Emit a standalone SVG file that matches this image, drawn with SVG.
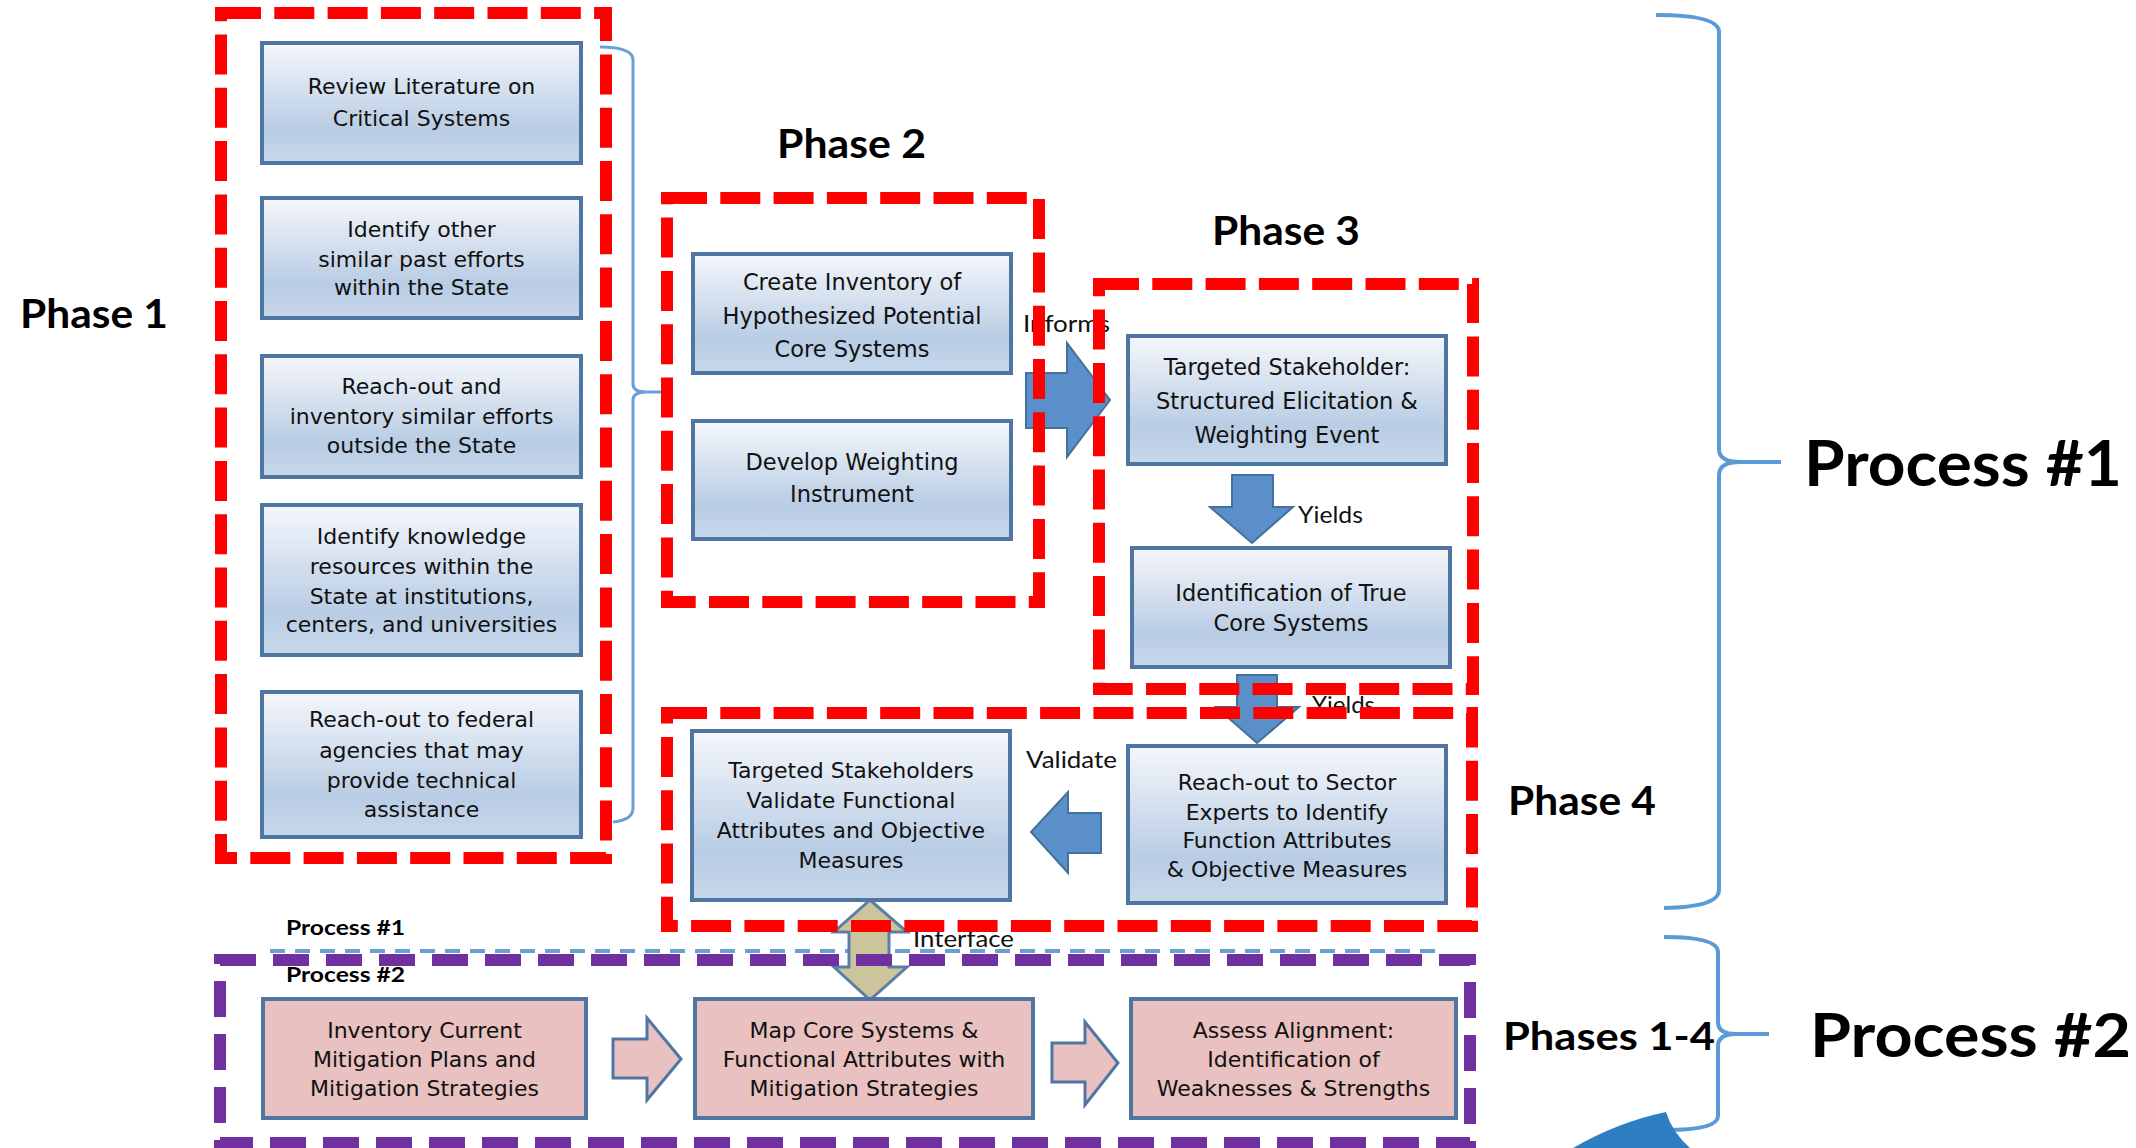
<svg xmlns="http://www.w3.org/2000/svg" width="2136" height="1148" viewBox="0 0 2136 1148">
  <defs>
    <linearGradient id="blueFill" x1="0" y1="0" x2="0" y2="1">
      <stop offset="0" stop-color="#f5f7fb"/>
      <stop offset="0.72" stop-color="#b8cce4"/>
      <stop offset="1" stop-color="#c8d8eb"/>
    </linearGradient>
    <style>
      .box { fill: url(#blueFill); stroke: #4f76a3; stroke-width: 4; }
      .pink { fill: #e8c1c0; stroke: #4f76a3; stroke-width: 4; }
      .txt { font-family: "DejaVu Sans", Verdana, sans-serif; font-size: 22px; fill: #111; text-anchor: middle; }
      .txt2 { font-family: "DejaVu Sans", Verdana, sans-serif; font-size: 22.5px; fill: #111; text-anchor: middle; }
      .big { font-family: Lato, "Open Sans", sans-serif; font-weight: bold; fill: #000; }
      .lbl { font-family: Lato, "Open Sans", sans-serif; font-size: 24px; fill: #111; }
      .frame { fill: none; stroke: #ff0000; stroke-width: 12; stroke-dasharray: 40 13.3; }
      .purple { fill: none; stroke: #7030a0; stroke-width: 12; stroke-dasharray: 36 17; }
      .brace { fill: none; stroke: #5b9bd5; stroke-width: 4; }
      .thin { fill: none; stroke: #6a9fd4; stroke-width: 3; }
      .blockArrow { fill: #5a8fc9; stroke: #41719c; stroke-width: 2; }
      .pinkArrow { fill: #e8c1c0; stroke: #4f76a3; stroke-width: 3; }
      .dualArrow { fill: #ccc49b; stroke: #5b7ea6; stroke-width: 3; }
    </style>
  </defs>

  <rect width="2136" height="1148" fill="#ffffff"/>

  <!-- big titles -->
  <g id="titles">
    <text class="big" x="20" y="328" font-size="40" textLength="148" lengthAdjust="spacingAndGlyphs">Phase 1</text>
    <text class="big" x="777" y="158" font-size="40" textLength="149" lengthAdjust="spacingAndGlyphs">Phase 2</text>
    <text class="big" x="1212" y="245" font-size="40" textLength="148" lengthAdjust="spacingAndGlyphs">Phase 3</text>
    <text class="big" x="1508" y="815" font-size="40" textLength="148" lengthAdjust="spacingAndGlyphs">Phase 4</text>
    <text class="big" x="1503" y="1050" font-size="39" textLength="212" lengthAdjust="spacingAndGlyphs">Phases 1-4</text>
    <text class="big" x="1804" y="486" font-size="63" textLength="318" lengthAdjust="spacingAndGlyphs">Process #1</text>
    <text class="big" x="1810" y="1057" font-size="62" textLength="321" lengthAdjust="spacingAndGlyphs">Process #2</text>
    <text class="big" x="286" y="935" font-size="21" textLength="119" lengthAdjust="spacingAndGlyphs">Process #1</text>
    <text class="big" x="286" y="982" font-size="21" textLength="119" lengthAdjust="spacingAndGlyphs">Process #2</text>
  </g>

  <!-- connectors: braces, block arrows and their labels -->
  <g id="connectors">
    <path class="thin" d="M600,47 Q633,47 633,60 L633,384 Q633,392 646,392 L662,392 M646,392 Q633,392 633,400 L633,808 Q633,820 613,822"/>
    <path class="brace" d="M1656,15 Q1719,15 1719,32 L1719,449 Q1719,462 1740,462 L1781,462 M1740,462 Q1719,462 1719,475 L1719,890 Q1719,907 1664,908"/>
    <path class="brace" d="M1664,937 Q1718,937 1718,952 L1718,1022 Q1718,1034 1736,1034 L1769,1034 M1736,1034 Q1718,1034 1718,1046 L1718,1116 Q1718,1130 1666,1130"/>

    <line x1="270" y1="951" x2="1440" y2="951" stroke="#6a9fd4" stroke-width="4" stroke-dasharray="15 10"/>

    <polygon class="blockArrow" points="1026,373 1067,373 1067,343 1110,400 1067,457 1067,428 1026,428"/>
    <text class="lbl" x="1023" y="332" textLength="87" lengthAdjust="spacingAndGlyphs">Informs</text>

    <polygon class="blockArrow" points="1232,475 1273,475 1273,507 1293,507 1252,543 1210,507 1232,507"/>
    <text class="lbl" x="1298" y="523" textLength="65" lengthAdjust="spacingAndGlyphs">Yields</text>

    <text class="lbl" x="1312" y="713" textLength="63" lengthAdjust="spacingAndGlyphs">Yields</text>
    <polygon class="blockArrow" points="1237,675 1277,675 1277,707 1299,707 1257,743 1216,707 1237,707"/>

    <polygon class="blockArrow" points="1101,813 1068,813 1068,792 1031,832 1068,873 1068,853 1101,853"/>
    <text class="lbl" x="1026" y="768" textLength="91" lengthAdjust="spacingAndGlyphs">Validate</text>

    <polygon class="pinkArrow" points="613,1039 647,1039 647,1018 681,1059 647,1100 647,1078 613,1078"/>
    <polygon class="pinkArrow" points="1052,1043 1085,1043 1085,1022 1118,1063 1085,1105 1085,1082 1052,1082"/>

    <polygon class="dualArrow" points="870,900 907,932 889,932 889,967 907,967 870,1000 834,967 849,967 849,932 834,932"/>
    <text class="lbl" x="913" y="947" font-size="22" textLength="101" lengthAdjust="spacingAndGlyphs">Interface</text>

    <path d="M1573,1148 Q1618,1122 1666,1112 Q1672,1132 1690,1148 Z" fill="#2e7fc2"/>
  </g>

  <!-- Phase 1 nodes -->
  <g id="p1-review">
    <rect class="box" x="262" y="43" width="319" height="120"/>
    <text class="txt" x="421.5" y="94">Review Literature on</text>
    <text class="txt" x="421.5" y="126">Critical Systems</text>
  </g>
  <g id="p1-similar">
    <rect class="box" x="262" y="198" width="319" height="120"/>
    <text class="txt" x="421.5" y="237">Identify other</text>
    <text class="txt" x="421.5" y="267">similar past efforts</text>
    <text class="txt" x="421.5" y="295">within the State</text>
  </g>
  <g id="p1-outside">
    <rect class="box" x="262" y="356" width="319" height="121"/>
    <text class="txt" x="421.5" y="394">Reach-out and</text>
    <text class="txt" x="421.5" y="424">inventory similar efforts</text>
    <text class="txt" x="421.5" y="453">outside the State</text>
  </g>
  <g id="p1-knowledge">
    <rect class="box" x="262" y="505" width="319" height="150"/>
    <text class="txt" x="421.5" y="544">Identify knowledge</text>
    <text class="txt" x="421.5" y="574">resources within the</text>
    <text class="txt" x="421.5" y="604">State at institutions,</text>
    <text class="txt" x="421.5" y="632">centers, and universities</text>
  </g>
  <g id="p1-federal">
    <rect class="box" x="262" y="692" width="319" height="145"/>
    <text class="txt" x="421.5" y="727">Reach-out to federal</text>
    <text class="txt" x="421.5" y="758">agencies that may</text>
    <text class="txt" x="421.5" y="788">provide technical</text>
    <text class="txt" x="421.5" y="817">assistance</text>
  </g>

  <!-- Phase 2 nodes -->
  <g id="p2-inventory">
    <rect class="box" x="693" y="254" width="318" height="119"/>
    <text class="txt2" x="852" y="290">Create Inventory of</text>
    <text class="txt2" x="852" y="324">Hypothesized Potential</text>
    <text class="txt2" x="852" y="357">Core Systems</text>
  </g>
  <g id="p2-weighting">
    <rect class="box" x="693" y="421" width="318" height="118"/>
    <text class="txt2" x="852" y="470">Develop Weighting</text>
    <text class="txt2" x="852" y="502">Instrument</text>
  </g>

  <!-- Phase 3 nodes -->
  <g id="p3-elicitation">
    <rect class="box" x="1128" y="336" width="318" height="128"/>
    <text class="txt2" x="1287" y="375">Targeted Stakeholder:</text>
    <text class="txt2" x="1287" y="409">Structured Elicitation &amp;</text>
    <text class="txt2" x="1287" y="443">Weighting Event</text>
  </g>
  <g id="p3-true-core">
    <rect class="box" x="1132" y="548" width="318" height="119"/>
    <text class="txt2" x="1291" y="601">Identification of True</text>
    <text class="txt2" x="1291" y="631">Core Systems</text>
  </g>

  <!-- Phase 4 nodes -->
  <g id="p4-validate">
    <rect class="box" x="692" y="731" width="318" height="169"/>
    <text class="txt" x="851" y="778">Targeted Stakeholders</text>
    <text class="txt" x="851" y="808">Validate Functional</text>
    <text class="txt" x="851" y="838">Attributes and Objective</text>
    <text class="txt" x="851" y="868">Measures</text>
  </g>
  <g id="p4-experts">
    <rect class="box" x="1128" y="746" width="318" height="157"/>
    <text class="txt" x="1287" y="790">Reach-out to Sector</text>
    <text class="txt" x="1287" y="820">Experts to Identify</text>
    <text class="txt" x="1287" y="848">Function Attributes</text>
    <text class="txt" x="1287" y="877">&amp; Objective Measures</text>
  </g>

  <!-- Process 2 nodes -->
  <g id="pr2-inventory">
    <rect class="pink" x="263" y="999" width="323" height="119"/>
    <text class="txt" x="424.5" y="1038">Inventory Current</text>
    <text class="txt" x="424.5" y="1067">Mitigation Plans and</text>
    <text class="txt" x="424.5" y="1096">Mitigation Strategies</text>
  </g>
  <g id="pr2-map">
    <rect class="pink" x="695" y="999" width="338" height="119"/>
    <text class="txt" x="864" y="1038">Map Core Systems &amp;</text>
    <text class="txt" x="864" y="1067">Functional Attributes with</text>
    <text class="txt" x="864" y="1096">Mitigation Strategies</text>
  </g>
  <g id="pr2-assess">
    <rect class="pink" x="1131" y="999" width="325" height="119"/>
    <text class="txt" x="1293.5" y="1038">Assess Alignment:</text>
    <text class="txt" x="1293.5" y="1067">Identification of</text>
    <text class="txt" x="1293.5" y="1096">Weaknesses &amp; Strengths</text>
  </g>

  <!-- dashed phase frames drawn over everything -->
  <g id="frames">
    <rect class="frame" x="221" y="13" width="385" height="845"/>
    <rect class="frame" x="667" y="198" width="372" height="404"/>
    <rect class="frame" x="1099" y="284" width="374" height="405"/>
    <rect class="frame" x="667" y="713" width="805" height="213"/>
    <rect class="purple" x="220" y="960" width="1250" height="183"/>
  </g>
</svg>
